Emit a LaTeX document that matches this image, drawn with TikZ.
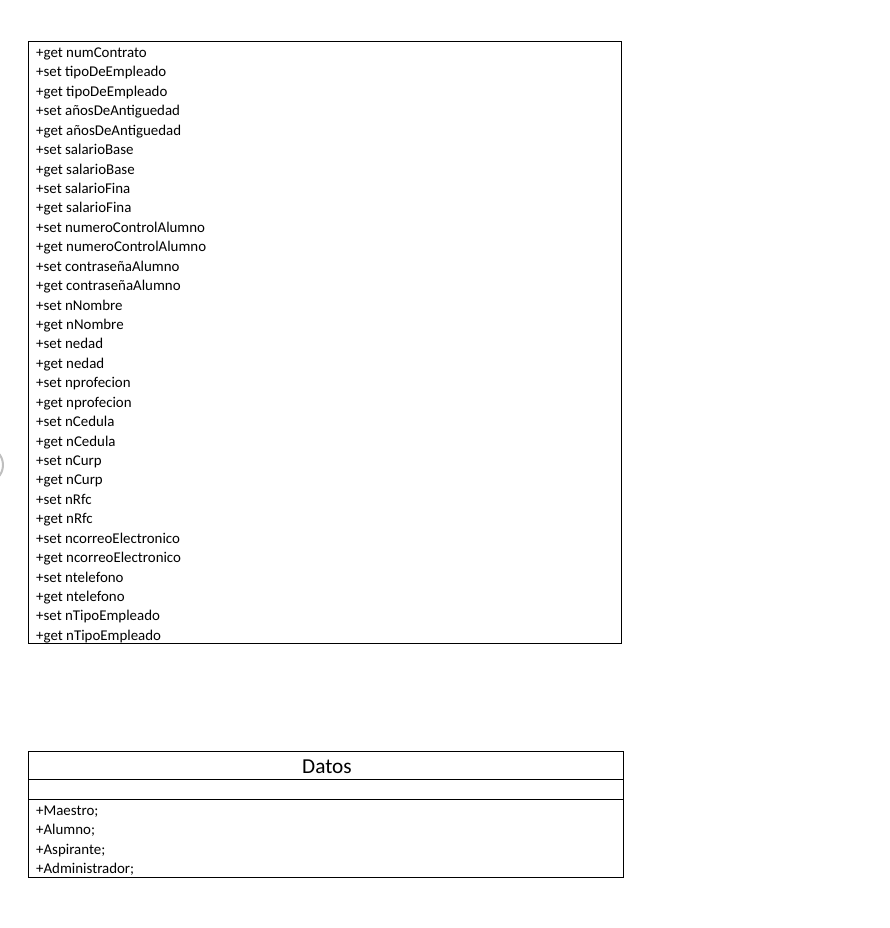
\documentclass[tikz,border=0pt]{standalone}
\usepackage{fontspec}
\setmainfont{Carlito}
\begin{document}
\begin{tikzpicture}[x=1pt,y=-1pt,
  box/.style={draw=black, line width=1pt, inner sep=0pt, anchor=north west},
  item/.style={anchor=base west, inner sep=0pt, font=\fontsize{14.9}{19.4}\selectfont},
  title/.style={anchor=base, inner sep=0pt, font=\fontsize{21.3}{24}\selectfont}]
\useasboundingbox (0,0) rectangle (889,928);
% partial circle at left edge
\draw[draw=black!25, line width=2pt] (-15,465) circle (18);
% methods box
\node[box, minimum width=593pt, minimum height=602pt] (methods) at (28,41) {};
\foreach \t [count=\i from 0] in {
 +get numContrato, +set tipoDeEmpleado, +get tipoDeEmpleado,
 +set añosDeAntiguedad, +get añosDeAntiguedad, +set salarioBase,
 +get salarioBase, +set salarioFina, +get salarioFina,
 +set numeroControlAlumno, +get numeroControlAlumno,
 +set contraseñaAlumno, +get contraseñaAlumno, +set nNombre,
 +get nNombre, +set nedad, +get nedad, +set nprofecion,
 +get nprofecion, +set nCedula, +get nCedula, +set nCurp,
 +get nCurp, +set nRfc, +get nRfc, +set ncorreoElectronico,
 +get ncorreoElectronico, +set ntelefono, +get ntelefono,
 +set nTipoEmpleado, +get nTipoEmpleado}
 { \node[item] (m\i) at (36,57.5+19.43*\i) {\t}; }
% Datos box
\node[box, minimum width=595pt, minimum height=126pt] (datos) at (28,751) {};
\coordinate (h1l) at (28,779); \coordinate (h1r) at (623,779);
\coordinate (h2l) at (28,799); \coordinate (h2r) at (623,799);
\draw[line width=1pt] (h1l) -- (h1r);
\draw[line width=1pt] (h2l) -- (h2r);
\node[title] (dtitle) at (327,773) {Datos};
\foreach \t [count=\i from 0] in {+Maestro;, +Alumno;, +Aspirante;, +Administrador;}
 { \node[item] (d\i) at (36,815.5+19.33*\i) {\t}; }
\end{tikzpicture}
\end{document}
